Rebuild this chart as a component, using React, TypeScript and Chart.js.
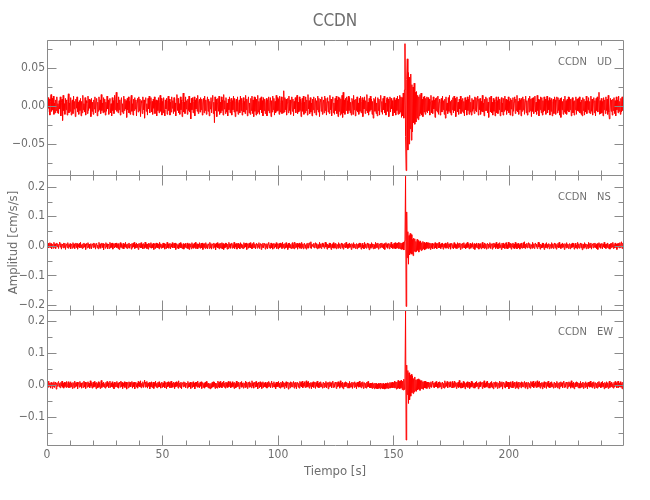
import { useEffect, useRef } from 'react';
import { Chart, registerables } from 'chart.js';

Chart.register(...registerables);

const STATION = 'CCDN';
const COMPONENTS = ['UD', 'NS', 'EW'];
const X_TITLE = 'Tiempo [s]';
const Y_TITLE = 'Amplitud [cm/s/s]';
const SAMPLE_INTERVAL = 0.25; // s
const MILLI = 0.001; // traces below are stored in 10^-3 cm/s/s
const TIME_RANGE = [0, 249.4];
const X_TICKS = [0, 50, 100, 150, 200];
const X_TICK_STEP = 50;
const X_MINOR_STEP = 10;
const Y_RANGES = [
  [-0.0908, 0.0868],
  [-0.217, 0.24],
  [-0.1875, 0.234],
];
const Y_TICK_STEPS = [0.05, 0.1, 0.1];
const Y_MINOR_STEPS = [0.025, 0.05, 0.05];
const Y_DECIMALS = [2, 1, 1];

// UD component, one value every 0.25 s (10^-3 cm/s/s), 20 values = 5 s per row
const UD = [
  4,-8,11,-3,9,-12,6,15,-7,10, -5,13,-11,4,-9,8,-6,12,-9,3,
  -10,7,-4,12,-13,5,9,-19,14,-6, 3,-11,10,-5,8,-12,6,16,-9,4,
  -7,11,-12,5,8,-10,13,-4,6,-14, 9,-3,12,-8,5,-11,7,-6,10,-13,
  6,-9,14,-5,3,-8,11,-12,7,4, -10,13,-6,9,-3,8,-14,10,-7,5,
  -11,8,-4,12,-9,6,10,-13,5,-7, 12,-5,8,-10,15,-6,4,-9,11,-8,
  9,-12,5,-7,13,-4,8,-11,6,10, -9,3,-13,11,-6,7,-10,14,-5,8,
  18,-7,4,-9,12,-5,8,-12,6,11, -8,3,-10,13,-6,9,-4,7,-15,10,
  -5,12,-9,6,-11,8,14,-7,3,-12, 9,-6,11,-4,8,-13,5,10,-8,12,
  -6,9,-14,7,4,-10,12,-5,8,-16, 6,11,-7,3,-12,10,-4,13,-9,5,
  11,-8,6,-11,9,-3,12,-10,5,8, -13,7,-6,11,-9,4,14,-7,10,-12,
  6,-9,11,-5,-13,8,-4,10,-11,7, 13,-6,9,-12,5,-8,12,-3,7,-10,
  11,-7,4,-13,9,15,-6,10,-9,3, -11,12,-5,8,-14,6,17,-8,5,-10,
  12,-4,7,-11,9,-6,13,-8,4,-17, 10,-5,11,-9,6,12,-13,8,-4,10,
  -7,14,-10,6,9,-8,11,-5,9,-12, 4,10,-9,13,-6,8,-11,5,12,-7,
  9,-13,6,-4,11,-9,7,14,-10,5, -22,12,-6,9,-14,4,10,-7,13,-11,
  5,-9,12,-6,8,-12,15,-4,7,-10, 11,-8,4,-13,9,-5,12,-9,6,10,
  -12,7,-5,13,-8,10,-14,6,9,-7, 12,-11,4,8,-9,13,-6,10,-12,5,
  11,-8,6,-10,14,-5,9,-13,7,12, -9,4,-11,10,-6,13,-10,8,-14,12,
  -7,11,-12,9,-10,14,-8,6,-11,10, -5,12,-9,7,-13,11,-6,9,-10,4,
  10,-13,8,-6,12,-9,5,11,-14,7, -8,13,-5,10,-12,6,-9,14,-7,11,
  -6,9,-11,13,-8,5,12,-10,7,-9, 20,-8,11,-5,9,-12,4,10,-9,13,
  -6,8,-11,5,12,-7,9,-13,6,-4, 11,-9,7,14,-10,5,-8,12,-6,9,
  -14,4,10,-7,13,-11,5,-9,12,-6, 8,-12,15,-4,7,-10,11,-8,4,-13,
  9,-5,12,-9,6,10,-12,7,-5,13, -8,10,-14,6,9,-7,12,-11,4,8,
  -9,13,-6,10,-12,5,11,-8,6,-10, 14,-5,9,-13,7,12,-9,4,-11,10,
  -6,13,-10,8,-14,12,-7,11,-12,9, -10,14,-15,18,-9,8,-11,10,-6,12,
  7,-10,13,-6,11,-9,5,-12,10,7, -11,14,-5,8,-13,9,-6,12,-8,4,
  -11,10,-7,13,-9,6,11,-14,8,-4, 12,-10,7,-6,15,-9,5,-12,10,-7,
  13,-5,9,-11,6,-16,10,8,-7,12, -10,4,-13,11,-6,9,-12,7,14,-8,
  6,-11,10,-5,13,-9,4,-12,8,11, -7,9,-14,6,12,-8,10,-4,7,-13,
  -7,11,-9,8,-12,10,-6,13,-11,9, -10,14,-8,12,-15,11,-13,17,-16,21,
  82,-40,-85,35,62,-58,44,-50,38,-30, 42,-45,28,-34,25,-22,30,-24,18,-21,
  19,-16,14,-18,12,-13,15,-10,17,-12, 9,-14,12,-8,13,-11,10,-7,12,-9,
  11,-6,9,-12,5,14,-9,7,-10,12, -4,8,-15,10,-6,11,-8,13,-11,5,
  9,-12,6,10,-8,13,-5,7,-11,9, -16,12,-6,4,-10,11,-7,14,-9,6,
  -12,8,-5,11,-9,13,-6,10,-14,7, 12,-8,5,-11,9,-4,13,-10,8,-7,
  10,-9,6,-13,11,-5,8,-12,12,-6, 9,-11,14,-8,5,-12,10,-7,8,-4,
  -10,12,-6,11,-8,7,13,-12,9,-5, 10,-11,6,-7,14,-8,4,-13,9,-6,
  12,-6,10,-9,5,-15,11,9,-8,13, -9,5,-12,10,-7,8,-13,6,12,-9,
  7,-10,12,-5,9,-13,6,11,-8,4, -12,10,-7,13,-5,9,-11,8,-6,12,
  -9,6,-12,10,-4,8,-13,11,-7,5, 12,-10,9,-6,14,-8,6,-11,10,-5,
  8,-13,10,-7,12,-5,9,-11,6,13, -9,7,-12,5,10,-8,13,-6,9,-14,
  10,-7,11,-10,6,13,-8,5,-11,14, -6,9,-13,8,-5,12,-9,11,-12,7,
  -8,12,-6,9,-11,4,13,-9,7,-5, 11,-12,8,-7,10,-13,6,9,-10,12,
  8,-11,7,12,-9,11,-6,8,-12,10, -15,11,-5,6,-11,9,-8,13,-10,7,
  -11,9,-6,12,-8,11,-5,9,-13,8, 11,-9,6,-12,7,-5,12,-11,9,-6,
  10,-7,12,-9,5,-11,8,-13,11,-6, 9,-12,6,-8,13,-10,7,-5,11,-9,
  6,-10,13,-7,9,-12,5,11,-9,7, -13,10,-6,12,-8,9,18,-11,7,-10,
  10,-9,6,-13,11,-5,8,-10,12,-6, 9,-11,14,-8,-17,-6,10,-7,8,-12,
  9,-6,11,-10,7,-13,12,-5,8,-9, 13,-7,6,-11,10,-8,12,-6,
];

// NS component
const NS = [
  6,-4,9,-7,3,11,-6,8,-10,5, 2,-8,12,-5,7,-9,4,10,-3,6,
  -9,5,13,-4,8,-11,6,3,-7,10, -5,9,-12,4,7,-6,11,-8,5,-3,
  8,-10,6,4,-8,11,-5,7,-9,3, 10,-6,8,-11,5,-4,9,-7,12,-5,
  4,-9,7,-6,10,-4,6,-12,8,3, -7,11,-5,6,-9,4,8,-10,5,7,
  -6,10,-4,8,-11,5,9,-7,3,-10, 12,-5,7,-8,4,10,-6,8,-13,6,
  5,-8,11,-4,7,-10,6,3,-9,12, -6,8,-5,10,-11,4,7,-7,9,-4,
  10,-6,5,-9,8,-12,6,11,-5,7, -8,4,9,-10,6,-4,12,-7,5,-9,
  7,-5,10,-8,4,6,-11,8,-6,9, -4,12,-9,5,-7,10,-5,6,-12,8,
  -4,9,-7,11,-6,5,-10,8,4,-8, 13,-5,7,-9,6,-11,9,-4,8,-6,
  11,-8,5,-6,9,-12,7,4,-9,10, -5,8,-7,6,-10,12,-4,7,-8,5,
  -7,10,-5,8,-11,6,4,-9,12,-6, 7,-8,5,9,-10,6,-4,11,-7,5,
  8,-6,10,-12,5,7,-8,4,-10,9, -5,11,-7,6,-9,4,8,-11,6,-5,
  9,-7,5,10,-9,6,-12,8,-4,7, -10,11,-6,5,-8,9,-5,12,-9,4,
  7,-10,6,-5,11,-8,4,9,-7,10, -12,6,-5,8,-9,11,-6,5,-10,7,
  4,-9,12,-6,8,-11,5,7,-8,10, -5,6,-13,9,-4,11,-7,6,-10,8,
  -6,9,-8,11,-10,8,-12,5,-7,10, -4,8,-11,6,-9,12,-5,7,-8,4,
  10,-8,5,-6,12,-9,7,-4,8,-11, 6,9,-7,5,-10,11,-5,7,-8,4,
  -9,11,-6,8,-4,10,-12,5,7,-8, 9,-5,11,-7,4,-10,8,-6,12,-5,
  7,-10,5,9,-8,6,-4,11,-9,5, 8,-12,6,-5,10,-7,4,9,-11,6,
  -5,8,-10,6,12,-7,4,-9,10,-6, 7,-11,5,9,-8,6,-4,11,-9,7,
  5,-11,8,-6,10,-4,7,-9,12,-5, 6,-10,8,-7,11,-5,4,-12,9,-6,
  10,-7,5,-9,6,11,-8,4,-10,13, -6,8,-5,9,-11,7,-4,10,-8,6,
  -9,12,-5,7,-10,6,9,-7,4,-11, 8,-6,10,-8,5,11,-7,14,-9,6,
  6,-4,9,-7,3,11,-6,8,-10,5, 4,-8,12,-5,7,-9,6,10,-3,6,
  -8,5,13,-4,8,-11,6,3,-7,10, -5,9,-12,4,7,-6,11,-8,5,-6,
  9,-10,6,4,-8,11,-5,7,-9,3, 10,-6,8,-11,5,-4,9,-7,12,-5,
  5,-9,7,-6,10,-4,6,-12,8,3, -7,11,-5,6,-9,4,8,-10,5,7,
  -6,10,-4,8,-11,5,9,-7,3,-10, 12,-5,7,-8,4,10,-6,8,-13,6,
  5,-8,11,-4,7,-10,6,3,-9,12, -6,8,-5,10,-11,4,7,-7,9,-4,
  10,-6,5,-9,8,-12,6,11,-5,7, -8,4,9,-10,6,-4,12,-7,5,-9,
  -6,9,-8,11,-10,8,-7,10,-9,12, -8,11,-10,9,-12,10,-11,13,-14,16,
  20,236,-205,115,-40,48,-62,35,-30,42, -25,38,-28,22,-33,26,-18,24,-20,15,
  -19,22,-15,18,-21,14,-12,17,-16,11, -13,15,-10,12,-14,9,-11,13,-8,10,
  -9,11,-7,10,-12,8,-6,9,-10,7, 5,-9,11,-6,8,-10,4,9,-7,12,
  -6,5,-9,8,-4,10,-11,6,7,-5, 10,-8,5,-6,12,-9,7,-4,8,-11,
  6,9,-7,5,-10,11,-5,7,-8,4, -9,11,-6,8,-4,10,-12,5,7,-8,
  9,-5,11,-7,4,-10,8,-6,12,-5, 7,-10,5,9,-8,6,-4,11,-9,5,
  8,-12,6,-5,10,-7,4,9,-11,6, -5,8,-10,6,12,-7,4,-9,10,-6,
  7,-11,5,9,-8,6,-4,11,-9,7, 5,-11,8,-6,10,-4,7,-9,12,-5,
  6,-10,8,-7,11,-5,4,-12,9,-6, 10,-7,5,-9,6,11,-8,4,-10,13,
  -6,8,-5,9,-11,7,-4,10,-8,6, -9,12,-5,7,-10,6,9,-7,4,-11,
  8,-6,10,-8,5,11,-7,14,-9,6, -4,9,-7,3,11,-6,8,-10,5,4,
  -8,12,-5,7,-9,6,10,-3,6,-9, 5,13,-4,8,-11,6,3,-7,10,-5,
  9,-12,4,7,-6,11,-8,5,-3,8, -10,6,4,-8,11,-5,7,-9,3,10,
  -6,8,-11,5,-4,9,-7,12,-5,4, -9,7,-6,10,-4,6,-12,8,3,-7,
  11,-5,6,-9,4,8,-10,5,7,-6, 10,-4,8,-11,5,9,-7,3,-10,12,
  -5,7,-8,4,10,-6,8,-13,6,5, -8,11,-4,7,-10,6,3,-9,12,-6,
  8,-5,10,-11,4,7,-7,9,-4,10, -6,5,-9,8,-12,6,11,-5,7,-8,
  4,9,-10,6,-4,12,-7,5,-9,7, -5,10,-8,4,6,-11,8,-6,9,-4,
  12,-9,5,-7,10,-5,6,-12,8,-4, 9,-7,11,-6,8,14,-9,10,
];

// EW component
const EW = [
  -5,9,-7,12,-4,6,-10,8,3,-11, 7,-5,10,-8,4,9,-13,6,-4,8,
  11,-6,5,-9,8,-4,12,-7,6,-10, 9,-5,7,-8,11,-6,4,10,-9,5,
  -7,10,-5,6,-11,8,4,-9,12,-6, 7,-4,9,-12,5,8,-7,11,-5,6,
  -10,7,5,-8,12,-6,9,-11,4,8, -7,10,-5,6,-9,13,-4,7,-10,5,
  9,-7,11,-5,6,-12,8,4,-9,10, -6,7,-11,5,14,-8,6,-5,9,-7,
  4,-10,8,-6,11,-4,7,-9,5,12, -8,6,-5,10,-7,4,-12,9,-6,8,
  -5,11,-8,6,-10,9,4,-7,12,-5, 8,-11,6,-4,10,-8,5,9,-13,7,
  6,-9,10,-5,8,-6,4,11,-10,7, -5,9,-12,6,8,-7,5,-10,11,-4,
  8,-6,13,-9,5,-4,10,-8,6,15, -7,9,-5,11,-10,6,-4,8,-12,7,
  -6,10,-8,5,9,-11,7,-4,12,-7, 5,-9,8,-6,10,-5,4,-10,7,9,
  -8,6,-5,11,-9,7,4,-12,8,-6, 10,-4,7,-9,6,12,-8,5,-7,9,
  5,-11,8,-6,10,-4,7,-10,13,-5, 6,-8,9,-12,5,7,-6,10,-4,8,
  -9,6,4,-10,11,-7,5,-6,9,-11, 7,5,-8,10,-5,6,-12,8,-4,9,
  -7,12,-6,5,-9,8,-4,10,-11,6, 7,-8,5,-10,9,-6,11,-5,4,-9,
  6,-10,4,-12,5,-9,8,-7,10,-5, 9,-11,6,-8,5,-10,12,-6,8,-9,
  11,-6,5,-9,8,-4,12,-7,6,-10, 9,-5,7,-8,11,-6,4,10,-9,5,
  -7,10,-5,6,-11,8,4,-9,12,-6, 7,-4,9,-12,5,8,-7,11,-5,6,
  -10,7,5,-8,12,-6,9,-11,4,8, -7,10,-5,6,-9,13,-4,7,-10,5,
  9,-7,11,-5,6,-12,8,4,-9,10, -6,7,-11,5,10,-8,6,-5,9,-7,
  4,-10,8,-6,11,-4,7,-9,5,12, -8,6,-5,10,-7,4,-12,9,-6,8,
  -5,11,-8,6,-10,9,4,-7,12,-5, 8,-11,6,-4,10,-8,5,9,-13,7,
  6,-9,10,-5,8,-6,4,11,-10,7, -5,9,-12,6,8,-7,5,-10,11,-4,
  8,-6,12,-9,5,-4,10,-8,6,13, -7,9,-5,11,-10,6,-4,8,-12,7,
  -6,10,-8,5,9,-11,7,-4,12,-7, 5,-9,8,-6,10,-5,4,-10,7,9,
  -8,6,-5,11,-9,7,4,-12,8,-6, 10,-4,7,-9,6,12,-8,5,-7,9,
  5,-11,8,-6,10,-4,7,-10,13,-5, 6,-8,9,-12,5,7,-6,10,-4,8,
  -9,6,4,-10,11,-7,5,-6,9,-11, 7,5,-8,10,-5,6,-12,8,-4,9,
  -7,12,-6,5,-9,8,-4,10,-11,6, 7,-8,5,-10,9,-6,11,-5,4,-9,
  6,-9,5,-11,7,-8,4,-12,6,-10, 5,-11,3,-12,5,-10,4,-12,6,-9,
  4,-12,5,-11,3,-13,6,-11,4,-10, 7,-11,5,-9,8,-10,7,-8,9,-9,
  7,-9,12,-8,10,-13,9,-11,14,-10, 11,-12,13,-9,15,-14,12,-16,18,-14,
  18,232,-172,62,-30,45,-58,38,-46,30, -35,33,-24,28,-27,20,-22,25,-18,16,
  -20,17,-15,19,-13,16,-17,12,-11,14, -12,10,-14,11,-9,12,-10,8,-11,9,
  -6,9,-11,7,-5,10,-8,4,12,-7, 6,-9,8,-5,11,-6,4,-10,9,-7,
  10,-5,7,-12,6,9,-8,5,-10,13, -6,7,-4,11,-9,5,8,-7,10,-5,
  -8,6,11,-9,5,-7,12,-4,8,-11, 6,-5,9,-8,14,-6,5,-10,7,4,
  -9,11,-6,8,-12,5,7,-5,10,-8, 4,9,-11,6,-7,12,-5,8,-9,6,
  5,-10,9,-6,11,-4,6,-12,8,-7, 10,-5,7,4,-11,9,-6,13,-8,5,
  -7,10,-5,12,-9,6,4,-10,8,-6, 11,-8,5,-12,9,6,-7,10,-4,8,
  -11,7,5,-9,12,-6,8,-4,10,-13, 6,9,-7,5,-10,11,-6,8,-5,9,
  -12,7,-6,10,-8,5,11,-9,6,-4, 9,-11,7,10,-8,5,-12,9,-6,8,
  6,-9,10,-5,8,-6,4,11,-10,7, -5,9,-12,6,8,-7,5,-10,11,-4,
  8,-6,12,-9,5,-4,10,-8,6,13, -7,9,-5,11,-10,6,-4,8,-12,7,
  -6,10,-8,5,9,-11,7,-4,12,-7, 5,-9,8,-6,10,-5,4,-10,7,9,
  -8,6,-5,11,-9,7,4,-12,8,-6, 10,-4,7,-9,6,12,-8,5,-7,9,
  5,-11,8,-6,10,-4,7,-10,13,-5, 6,-8,9,-12,5,7,-6,10,-4,8,
  -9,6,4,-10,11,-7,5,-6,9,-11, 7,5,-8,10,-5,6,-12,8,-4,9,
  -7,12,-6,5,-9,8,-4,10,-11,6, 7,-8,5,-10,9,-6,11,-5,4,-9,
  9,-7,11,-5,6,-12,8,4,-9,10, -6,7,-11,5,12,-8,6,-5,9,-7,
  4,-10,8,-6,11,-4,7,-9,5,12, -8,6,-5,10,-7,4,-12,9,
];

const TRACES = [UD, NS, EW];
const SCALE_IDS = ['yUD', 'yNS', 'yEW'];

const FONT = '"Liberation Sans Narrow", "DejaVu Sans Condensed", "Liberation Sans", sans-serif';
const TEXT = '#6e6e6e';
const AXIS = '#8a8a8a';
const TRACE_COLOR = '#ff0000';

const fmt = (v: number, d: number) => {
  const val = Math.abs(v) < 1e-9 ? 0 : v;
  return val.toFixed(d).replace('-', '\u2212');
};

const onStep = (v: number, step: number) => {
  const r = v / step;
  return Math.abs(r - Math.round(r)) < 1e-6;
};

const yScale = (k: number) => ({
  type: 'linear',
  position: 'left',
  stack: 'panels',
  stackWeight: 1,
  offset: false,
  min: Y_RANGES[k][0],
  max: Y_RANGES[k][1],
  grid: { display: false, drawTicks: false },
  border: { display: false },
  ticks: {
    stepSize: Y_TICK_STEPS[k],
    includeBounds: false,
    padding: 2,
    color: TEXT,
    font: { family: FONT, size: 12 },
    callback: (v: number) => fmt(v, Y_DECIMALS[k]),
  },
  afterBuildTicks: (s: any) => {
    s.ticks = s.ticks.filter((t: any) => onStep(t.value, Y_TICK_STEPS[k]));
  },
  title:
    k === 1
      ? { display: true, text: Y_TITLE, color: TEXT, font: { family: FONT, size: 13 }, padding: { top: 6, bottom: 0 } }
      : { display: false },
  afterFit: (s: any) => {
    s.width = 47;
  },
});

const framePlugin = {
  id: 'seisFrames',
  afterDraw(chart: any) {
    const ctx = chart.ctx;
    const xs = chart.scales.x;
    const area = chart.chartArea;
    const L = Math.round(area.left) + 0.5;
    const R = Math.round(area.right) + 0.5;
    ctx.save();
    ctx.strokeStyle = AXIS;
    ctx.lineWidth = 1;
    SCALE_IDS.forEach((id, k) => {
      const s = chart.scales[id];
      const T = Math.round(s.top) + 0.5;
      const B = Math.round(s.bottom) + 0.5;
      ctx.beginPath();
      ctx.rect(L, T, R - L, B - T);
      const nMax = Math.floor(TIME_RANGE[1] / X_MINOR_STEP);
      for (let n = Math.ceil(TIME_RANGE[0] / X_MINOR_STEP); n <= nMax; n++) {
        const v = n * X_MINOR_STEP;
        const px = Math.round(xs.getPixelForValue(v)) + 0.5;
        const len = v % X_TICK_STEP === 0 ? 10 : 5;
        ctx.moveTo(px, T);
        ctx.lineTo(px, T + len);
        ctx.moveTo(px, B);
        ctx.lineTo(px, B - len);
      }
      const step = Y_MINOR_STEPS[k];
      const [lo, hi] = Y_RANGES[k];
      for (let n = Math.ceil(lo / step - 1e-9); n * step <= hi + 1e-9; n++) {
        const v = n * step;
        const py = Math.round(s.getPixelForValue(v)) + 0.5;
        const len = onStep(v, Y_TICK_STEPS[k]) ? 9 : 5;
        ctx.moveTo(L, py);
        ctx.lineTo(L + len, py);
        ctx.moveTo(R, py);
        ctx.lineTo(R - len, py);
      }
      ctx.stroke();

      ctx.fillStyle = TEXT;
      ctx.font = `11px ${FONT}`;
      ctx.textBaseline = 'middle';
      ctx.textAlign = 'left';
      ctx.fillText(STATION, area.right - 65, s.top + 22);
      ctx.fillText(COMPONENTS[k], area.right - 26, s.top + 22);
    });
    ctx.fillStyle = TEXT;
    ctx.font = `17px ${FONT}`;
    ctx.textAlign = 'center';
    ctx.textBaseline = 'middle';
    ctx.fillText(STATION, (area.left + area.right) / 2, area.top - 18);
    ctx.restore();
  },
};

export default function App() {
  const ref = useRef<HTMLCanvasElement>(null);

  useEffect(() => {
    if (!ref.current) return;
    const scales: any = {
      x: {
        type: 'linear',
        position: 'bottom',
        min: TIME_RANGE[0],
        max: TIME_RANGE[1],
        grid: { display: false, drawTicks: false },
        border: { display: false },
        ticks: {
          autoSkip: false,
          padding: 3,
          maxRotation: 0,
          color: TEXT,
          font: { family: FONT, size: 12 },
          callback: (v: number) => String(Math.round(v)),
        },
        afterBuildTicks: (s: any) => {
          s.ticks = X_TICKS.map((value) => ({ value }));
        },
        title: {
          display: true,
          text: X_TITLE,
          color: TEXT,
          font: { family: FONT, size: 13 },
          padding: { top: 0, bottom: 21 },
        },
        afterFit: (s: any) => {
          s.height = 55;
        },
      },
    };
    for (let k = SCALE_IDS.length - 1; k >= 0; k--) scales[SCALE_IDS[k]] = yScale(k);

    const chart = new Chart(ref.current, {
      type: 'line',
      data: {
        datasets: TRACES.map((trace, k) => ({
          label: `${STATION} ${COMPONENTS[k]}`,
          data: trace.map((v, i) => ({ x: i * SAMPLE_INTERVAL, y: v * MILLI })),
          yAxisID: SCALE_IDS[k],
          borderColor: TRACE_COLOR,
          borderWidth: 1,
          pointRadius: 0,
          tension: 0,
          fill: false,
        })),
      },
      options: {
        responsive: false,
        animation: false,
        devicePixelRatio: 1,
        layout: { padding: { left: 0, right: 27, top: 40, bottom: 0 } },
        plugins: {
          legend: { display: false },
          tooltip: { enabled: false },
          title: { display: false },
        },
        scales,
      } as any,
      plugins: [framePlugin],
    } as any);
    return () => chart.destroy();
  }, []);

  return (
    <div style={{ position: 'fixed', left: 0, top: 0, width: 650, height: 500, background: '#ffffff' }}>
      <canvas ref={ref} width={650} height={500} style={{ display: 'block', width: 650, height: 500 }} />
    </div>
  );
}
